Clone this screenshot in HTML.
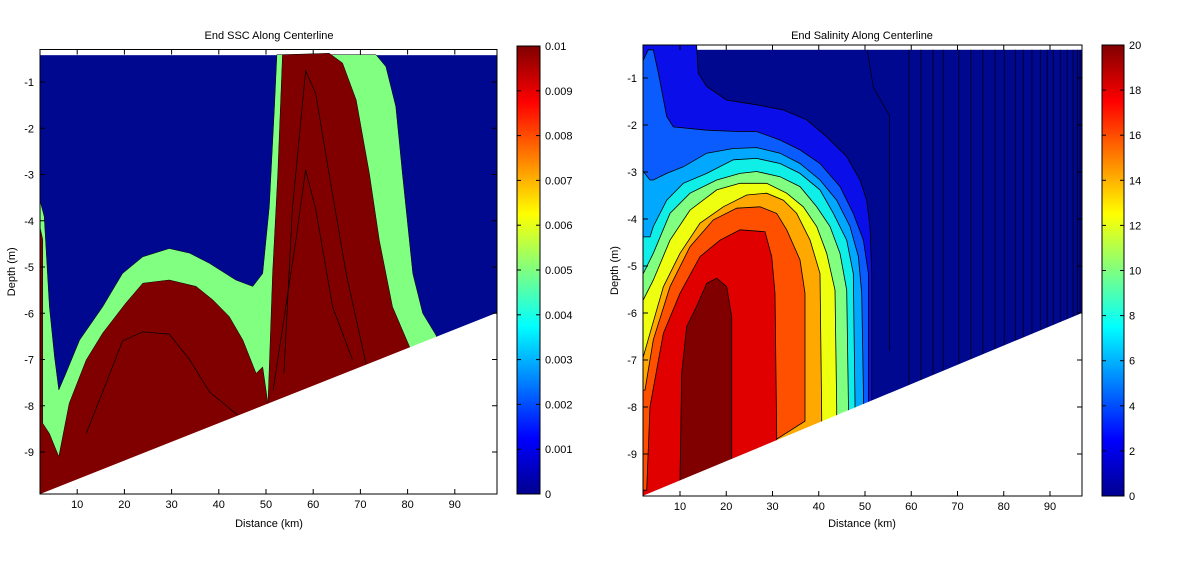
<!DOCTYPE html>
<html><head><meta charset="utf-8"><style>
html,body{margin:0;padding:0;background:#fff;}
svg{display:block;font-family:"Liberation Sans",sans-serif;}
</style></head><body>
<svg id="fig" width="1192" height="565" viewBox="0 0 1192 565" xmlns="http://www.w3.org/2000/svg">
<defs>
<linearGradient id="jet" x1="0" y1="1" x2="0" y2="0">
<stop offset="0" stop-color="#00008f"/><stop offset="0.125" stop-color="#0000ff"/><stop offset="0.375" stop-color="#00ffff"/><stop offset="0.625" stop-color="#ffff00"/><stop offset="0.875" stop-color="#ff0000"/><stop offset="1" stop-color="#800000"/>
</linearGradient>
<clipPath id="clipL"><rect x="40" y="49.5" width="457" height="444.5"/></clipPath>
<clipPath id="clipR"><rect x="643" y="45" width="439" height="451"/></clipPath>
</defs>
</svg>
<script>
// ---------- data ----------
const depthTicks = [-1,-2,-3,-4,-5,-6,-7,-8,-9];
const distTicks = [10,20,30,40,50,60,70,80,90];
const sscTicks = [0,0.001,0.002,0.003,0.004,0.005,0.006,0.007,0.008,0.009,0.01];
const salTicks = [0,2,4,6,8,10,12,14,16,18,20];
const bedKmL = [2.1, 98.9];
const bedDepthL = [-9.91, -5.99];
const bedKmR = [2.0, 96.9];
const bedDepthR = [-9.89, -6.0];
// SSC regions (km, depth)
const sscGreenKm = [2.1,3.0,4.1,5.2,6.1,7.6,10.5,15.4,19.6,23.9,29.5,33.8,38.0,43.6,47.2,49.3,50.7,51.8,52.3,73.3,75.4,77.5,78.9,81.1,83.2,86.0,99,2.1];
const sscGreenDepth = [-3.55,-3.91,-5.86,-6.94,-7.66,-7.30,-6.58,-5.86,-5.14,-4.78,-4.60,-4.70,-4.92,-5.28,-5.42,-5.14,-3.70,-1.53,-0.41,-0.41,-0.67,-1.53,-2.98,-5.14,-6.00,-6.47,-10.5,-10.5];
const sscRed1Km = [2.1,2.7,2.7,4.1,6.1,8.3,11.9,15.4,20.3,23.9,29.5,35.2,38.7,42.2,45.1,47.9,49.3,50.4,50.4,2.1];
const sscRed1Depth = [-4.13,-4.4,-8.38,-8.60,-9.10,-7.95,-7.01,-6.43,-5.78,-5.35,-5.28,-5.42,-5.71,-6.07,-6.58,-7.30,-7.16,-7.95,-10.5,-10.5];
const sscRed2Km = [50.4,51.4,52.5,53.5,63.4,66.2,69.1,71.9,74.0,76.8,80.4,85,50.4];
const sscRed2Depth = [-8.0,-5.14,-2.98,-0.41,-0.38,-0.59,-1.39,-2.98,-4.42,-5.86,-6.72,-10.5,-10.5];
const sscLineAKm = [53.8,55.6,58.4,60.5,63.4,67.0,71.2];
const sscLineADepth = [-7.3,-3.74,-0.76,-1.24,-3.0,-5.15,-7.1];
const sscLineBKm = [51.5,56.3,58.4,60.5,64.1,68.3];
const sscLineBDepth = [-7.66,-4.45,-2.9,-3.74,-5.86,-7.0];
const sscLineCKm = [11.9,15.4,19.6,23.9,29.5,33.8,38.0,44];
const sscLineCDepth = [-8.6,-7.7,-6.6,-6.4,-6.45,-7.0,-7.7,-8.2];
// Salinity contour boundaries (outermost -> innermost)
const salLevelKm = [
 [1.9,13.6,13.96,15.77,20.1,26.58,32.35,37.39,41.72,46.04,48.92,50.37,51.09,51.45,51.45,1.9],
 [1.9,2.07,3.15,4.23,5.32,7.12,8.56,15.77,22.97,26.58,31.63,35.95,40.28,44.6,47.48,49.65,50.73,50.73,1.9],
 [1.9,2.07,3.51,4.23,7.12,10.72,15.77,21.53,26.58,31.63,35.95,40.28,43.88,46.76,48.57,49.29,49.65,49.65,1.9],
 [1.9,2.07,3.51,4.23,7.12,10.72,15.77,21.53,26.58,31.63,35.95,40.28,43.16,46.04,47.48,47.84,47.84,1.9],
 [1.9,2.07,4.23,7.84,12.16,17.93,22.97,26.58,31.63,35.95,39.56,42.44,44.6,46.04,46.4,46.4,1.9],
 [1.9,2.07,4.23,7.84,12.16,17.93,22.97,28.74,33.07,36.67,39.56,41.72,43.52,43.88,43.88,1.9],
 [1.9,2.07,3.51,6.40,10.0,14.33,19.37,24.42,28.74,32.35,35.24,38.12,40.28,40.64,40.64,1.9],
 [1.9,2.43,4.23,7.84,12.16,17.21,22.25,27.3,30.91,33.07,35.95,37.03,37.03,1.9],
 [1.9,2.79,3.51,6.40,10.0,14.33,18.65,22.97,28.38,29.82,30.55,30.91,30.91,1.9],
 [10.0,10.36,11.44,13.6,15.77,17.93,20.1,21.17,21.17,10.0]
];
const salLevelDepth = [
 [-0.3,-0.3,-0.90,-1.18,-1.47,-1.57,-1.68,-1.89,-2.25,-2.67,-3.17,-3.60,-4.16,-5.16,-10.5,-10.5],
 [-0.62,-0.62,-0.40,-0.40,-0.90,-1.82,-2.04,-2.11,-2.14,-2.14,-2.32,-2.53,-2.82,-3.31,-3.88,-4.45,-5.16,-10.5,-10.5],
 [-2.99,-2.99,-3.17,-3.17,-3.03,-2.89,-2.60,-2.50,-2.48,-2.60,-2.82,-3.17,-3.60,-4.16,-4.80,-5.58,-7.64,-10.5,-10.5],
 [-4.45,-4.38,-4.38,-4.16,-3.60,-3.24,-3.03,-2.74,-2.71,-2.82,-3.03,-3.38,-3.88,-4.45,-5.16,-7.9,-10.5,-10.5],
 [-5.16,-5.16,-4.73,-3.88,-3.45,-3.17,-3.03,-2.99,-3.10,-3.31,-3.74,-4.16,-4.73,-5.51,-7.9,-10.5,-10.5],
 [-5.72,-5.72,-5.30,-4.45,-3.81,-3.38,-3.24,-3.24,-3.45,-3.74,-4.16,-4.73,-5.51,-8.0,-10.5,-10.5],
 [-6.93,-6.93,-6.43,-5.44,-4.73,-4.09,-3.74,-3.49,-3.45,-3.60,-3.88,-4.45,-5.16,-8.2,-10.5,-10.5],
 [-7.64,-7.64,-6.57,-5.44,-4.59,-4.02,-3.77,-3.74,-3.88,-4.23,-4.87,-5.58,-8.3,-10.5],
 [-9.77,-9.77,-7.99,-6.43,-5.58,-4.80,-4.45,-4.23,-4.27,-4.80,-5.58,-8.6,-10.5,-10.5],
 [-9.55,-7.28,-6.29,-5.86,-5.37,-5.26,-5.44,-6.08,-10.5,-10.5]
];
const salBandColors = ["#0a0ee8","#0a5cff","#00a8ff","#10eee8","#80ff80","#eeff10","#ffa800","#ff5000","#e00000","#800000"];
const salLineKm = [50.5,51.8,55.3,55.3];
const salLineDepth = [-0.4,-1.2,-1.8,-6.8];
const salVertKm = [59.5,62.1,64.7,66.9,70.3,72.9,75.5,78.1,80.1,82.5,84.2,86.1,87.9,89.4,90.7,92.2,93.7,95.0,95.9,96.5];

// ---------- helpers ----------
const NS = "http://www.w3.org/2000/svg";
const svg = document.getElementById('fig');
function mk(tag, attrs, parent){const e=document.createElementNS(NS,tag);for(const k in attrs)e.setAttribute(k,attrs[k]);(parent||svg).appendChild(e);return e;}
const xL = km => 30 + 4.72*km;
const yL = d => 82 + 46.25*(-1-d);
const xR = km => 633.75 + 4.625*km;
const yR = d => 78 + 47*(-1-d);
function pts(kms, ds, fx, fy){return kms.map((k,i)=>fx(k).toFixed(1)+','+fy(ds[i]).toFixed(1)).join(' ');}

// ---------- left panel ----------
const gL = mk('g',{'clip-path':'url(#clipL)'});


let bg = mk('rect',{x:40,y:yL(-0.42),width:457,height:494-yL(-0.42),fill:'#00088f'},gL);


let p = mk('polygon',{points:pts(sscGreenKm,sscGreenDepth,xL,yL),fill:'#80ff80',stroke:'#000','stroke-width':0.5},gL);


p = mk('polygon',{points:pts(sscRed1Km,sscRed1Depth,xL,yL),fill:'#800000',stroke:'#000','stroke-width':0.5},gL);


p = mk('polygon',{points:pts(sscRed2Km,sscRed2Depth,xL,yL),fill:'#800000',stroke:'#000','stroke-width':0.5},gL);


[[sscLineAKm,sscLineADepth],[sscLineBKm,sscLineBDepth],[sscLineCKm,sscLineCDepth]].forEach(a=>{
  const l = mk('polyline',{points:pts(a[0],a[1],xL,yL),fill:'none',stroke:'#000','stroke-width':0.7},gL);
  
  
});
p = mk('polygon',{points:pts([bedKmL[0],bedKmL[1],bedKmL[1]],[bedDepthL[0],bedDepthL[1],-11],xL,yL),fill:'#fff'},gL);



// ---------- right panel ----------
const gR = mk('g',{'clip-path':'url(#clipR)'});


bg = mk('rect',{x:643,y:yR(-0.4),width:439,height:496-yR(-0.4),fill:'#00088f'},gR);


salVertKm.forEach(k=>{
  const l = mk('line',{x1:xR(k),x2:xR(k),y1:yR(-0.4),y2:496,stroke:'#000018','stroke-width':0.8},gR);
  
  
});
const sl = mk('polyline',{points:pts(salLineKm,salLineDepth,xR,yR),fill:'none',stroke:'#000','stroke-width':0.7},gR);


salLevelKm.forEach((kms,i)=>{
  const b = mk('polygon',{points:pts(kms,salLevelDepth[i],xR,yR),fill:salBandColors[i],stroke:'#000','stroke-width':0.8},gR);
  
  
});
p = mk('polygon',{points:pts([bedKmR[0],bedKmR[1],bedKmR[1]],[bedDepthR[0],bedDepthR[1],-11],xR,yR),fill:'#fff'},gR);



// ---------- axes ----------
function axes(prefix, x0,y0,x1,y1, fx, fy, title, cx){
  const box = mk('rect',{x:x0,y:y0,width:x1-x0,height:y1-y0,fill:'none',stroke:'#000','stroke-width':1});
  
  
  depthTicks.forEach(d=>{
    const y=fy(d);
    mk('line',{x1:x0,x2:x0+5,y1:y,y2:y,stroke:'#000'});
    mk('line',{x1:x1-5,x2:x1,y1:y,y2:y,stroke:'#000'});
    const t = mk('text',{x:x0-6,y:y+4,'font-size':11,'text-anchor':'end'});
    t.textContent = d;
    
    
  });
  distTicks.forEach(k=>{
    const x=fx(k);
    mk('line',{x1:x,x2:x,y1:y1,y2:y1-5,stroke:'#000'});
    mk('line',{x1:x,x2:x,y1:y0,y2:y0+5,stroke:'#000'});
    const t = mk('text',{x:x,y:y1+14,'font-size':11,'text-anchor':'middle'});
    t.textContent = k;
    
    
  });
  let t = mk('text',{x:cx,y:39,'font-size':11,'text-anchor':'middle'});
  t.textContent = title;
  
  
  t = mk('text',{x:cx,y:527,'font-size':11,'text-anchor':'middle'});
  t.textContent = 'Distance (km)';
  
  
  t = mk('text',{x:0,y:0,'font-size':11,'text-anchor':'middle',transform:`translate(${x0-25},${(y0+y1)/2}) rotate(-90)`});
  t.textContent = 'Depth (m)';
  
  
}
axes('ssc',40,49.5,497,494,xL,yL,'End SSC Along Centerline',269);
axes('salinity',643,45,1082,496,xR,yR,'End Salinity Along Centerline',862);

// ---------- colorbars ----------
function colorbar(prefix,x0,y0,x1,y1,ticks,maxV){
  const r = mk('rect',{x:x0,y:y0,width:x1-x0,height:y1-y0,fill:'url(#jet)',stroke:'#000','stroke-width':1});
  
  
  ticks.forEach(v=>{
    const y = y1 - (v/maxV)*(y1-y0);
    mk('line',{x1:x0,x2:x0+4,y1:y,y2:y,stroke:'#000'});
    mk('line',{x1:x1-4,x2:x1,y1:y,y2:y,stroke:'#000'});
    const t = mk('text',{x:x1+5,y:y+4,'font-size':11});
    t.textContent = v;
    
    
  });
}
colorbar('ssc',517,46,540,494,sscTicks,0.01);
colorbar('salinity',1102,45,1124,496,salTicks,20);
</script>
</body></html>
